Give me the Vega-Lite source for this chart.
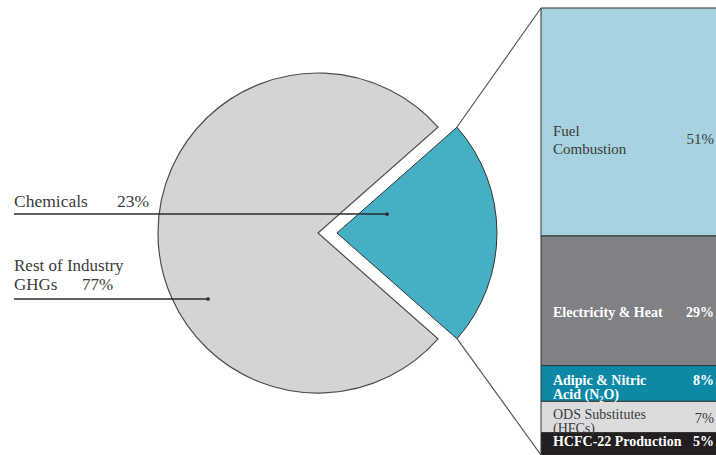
{
  "$schema": "https://vega.github.io/schema/vega-lite/v6.json",
  "width": 716,
  "height": 447,
  "autosize": {"type": "none"},
  "padding": {"left": 0, "top": 8, "right": 0, "bottom": 0},
  "background": "white",
  "config": {
    "view": {"stroke": null},
    "axis": {"disable": true},
    "legend": {"disable": true},
    "text": {"font": "Liberation Serif"}
  },
  "datasets": {
    "industry": [
      {"sector": "Chemicals", "label": "Chemicals", "share": 0.23},
      {"sector": "Rest of Industry GHGs", "label": "Rest of Industry\nGHGs", "share": 0.77}
    ],
    "chemicals": [
      {"source": "Fuel Combustion", "label": "Fuel\nCombustion", "share": 0.51},
      {"source": "Electricity & Heat", "label": "Electricity & Heat", "share": 0.29},
      {"source": "Adipic & Nitric Acid (N₂O)", "label": "Adipic & Nitric\nAcid (N₂O)", "share": 0.08},
      {"source": "ODS Substitutes (HFCs)", "label": "ODS Substitutes\n(HFCs)", "share": 0.07},
      {"source": "HCFC-22 Production", "label": "HCFC-22 Production", "share": 0.05}
    ]
  },
  "layer": [
    {
      "data": {"name": "industry"},
      "transform": [
        {"stack": "share", "groupby": [], "as": ["t0", "t1"]},
        {"filter": {"field": "sector", "equal": "Rest of Industry GHGs"}}
      ],
      "mark": {"type": "arc", "radius": 160, "stroke": "#4d4d4d", "strokeWidth": 1.2},
      "encoding": {
        "theta": {"field": "t0", "type": "quantitative", "stack": null, "scale": {"domain": [0, 1], "range": [0.8482, 7.1314]}},
        "theta2": {"field": "t1"},
        "x": {"datum": 0.4441, "type": "quantitative", "scale": {"domain": [0, 1], "nice": false, "zero": false}},
        "y": {"datum": 0.5034, "type": "quantitative", "scale": {"domain": [0, 1], "nice": false, "zero": false, "reverse": true}},
        "fill": {"field": "sector", "type": "nominal", "scale": {"domain": ["Rest of Industry GHGs", "Chemicals", "Fuel Combustion", "Electricity & Heat", "Adipic & Nitric Acid (N₂O)", "ODS Substitutes (HFCs)", "HCFC-22 Production"], "range": ["#d3d4d6", "#45afc4", "#a6d3df", "#808185", "#0d89a5", "#dcdcde", "#231f20"]}}
      }
    },
    {
      "data": {"name": "industry"},
      "transform": [
        {"stack": "share", "groupby": [], "as": ["t0", "t1"]},
        {"filter": {"field": "sector", "equal": "Chemicals"}}
      ],
      "mark": {"type": "arc", "radius": 160, "xOffset": 19, "stroke": "#333333", "strokeWidth": 1},
      "encoding": {
        "theta": {"field": "t0", "type": "quantitative", "stack": null, "scale": {"domain": [0, 1], "range": [0.8482, 7.1314]}},
        "theta2": {"field": "t1"},
        "x": {"datum": 0.4441, "type": "quantitative", "scale": {"domain": [0, 1], "nice": false, "zero": false}},
        "y": {"datum": 0.5034, "type": "quantitative", "scale": {"domain": [0, 1], "nice": false, "zero": false, "reverse": true}},
        "fill": {"field": "sector", "type": "nominal"}
      }
    },
    {
      "data": {"name": "industry"},
      "transform": [{"filter": {"field": "sector", "equal": "Chemicals"}}],
      "mark": {"type": "rule", "stroke": "#555555", "strokeWidth": 1.2},
      "encoding": {
        "x": {"datum": 0.6383, "type": "quantitative", "scale": {"domain": [0, 1], "nice": false, "zero": false}},
        "y": {"datum": 0.2662, "type": "quantitative", "scale": {"domain": [0, 1], "nice": false, "zero": false, "reverse": true}},
        "x2": {"datum": 0.7556},
        "y2": {"datum": 0}
      }
    },
    {
      "data": {"name": "industry"},
      "transform": [{"filter": {"field": "sector", "equal": "Chemicals"}}],
      "mark": {"type": "rule", "stroke": "#555555", "strokeWidth": 1.2},
      "encoding": {
        "x": {"datum": 0.6383, "type": "quantitative", "scale": {"domain": [0, 1], "nice": false, "zero": false}},
        "y": {"datum": 0.7396, "type": "quantitative", "scale": {"domain": [0, 1], "nice": false, "zero": false, "reverse": true}},
        "x2": {"datum": 0.7556},
        "y2": {"datum": 1}
      }
    },
    {
      "data": {"name": "chemicals"},
      "transform": [{"stack": "share", "groupby": [], "as": ["y0", "y1"]}],
      "mark": {"type": "rect", "stroke": "#333333", "strokeWidth": 1},
      "encoding": {
        "x": {"datum": 0.7556, "type": "quantitative", "scale": {"domain": [0, 1], "nice": false, "zero": false}},
        "x2": {"datum": 1.01},
        "y": {"field": "y0", "type": "quantitative", "scale": {"domain": [0, 1], "nice": false, "zero": false, "reverse": true}},
        "y2": {"field": "y1"},
        "fill": {"field": "source", "type": "nominal"}
      }
    },
    {
      "data": {"name": "chemicals"},
      "transform": [
        {"stack": "share", "groupby": [], "as": ["y0", "y1"]},
        {"filter": {"field": "source", "equal": "Fuel Combustion"}},
        {"fold": ["y0", "y1"], "as": ["edge", "pos"]}
      ],
      "mark": {"type": "text", "align": "left", "baseline": "middle", "dy": 9, "fontSize": 15, "lineHeight": 18, "lineBreak": "\n", "color": "#3a3a3a"},
      "encoding": {
        "x": {"datum": 0.7723, "type": "quantitative", "scale": {"domain": [0, 1], "nice": false, "zero": false}},
        "y": {"aggregate": "mean", "field": "pos", "type": "quantitative", "scale": {"domain": [0, 1], "nice": false, "zero": false, "reverse": true}},
        "text": {"field": "label", "type": "nominal"}
      }
    },
    {
      "data": {"name": "chemicals"},
      "transform": [
        {"stack": "share", "groupby": [], "as": ["y0", "y1"]},
        {"filter": {"field": "source", "equal": "Fuel Combustion"}},
        {"fold": ["y0", "y1"], "as": ["edge", "pos"]}
      ],
      "mark": {"type": "text", "align": "right", "baseline": "middle", "dy": 17, "fontSize": 15, "color": "#3a3a3a"},
      "encoding": {
        "x": {"datum": 0.9972, "type": "quantitative", "scale": {"domain": [0, 1], "nice": false, "zero": false}},
        "y": {"aggregate": "mean", "field": "pos", "type": "quantitative", "scale": {"domain": [0, 1], "nice": false, "zero": false, "reverse": true}},
        "text": {"field": "share", "type": "quantitative", "format": ".0%"}
      }
    },
    {
      "data": {"name": "chemicals"},
      "transform": [
        {"stack": "share", "groupby": [], "as": ["y0", "y1"]},
        {"filter": {"field": "source", "equal": "ODS Substitutes (HFCs)"}},
        {"fold": ["y0", "y1"], "as": ["edge", "pos"]}
      ],
      "mark": {"type": "text", "align": "left", "baseline": "middle", "dy": -2, "fontSize": 14, "lineHeight": 14, "lineBreak": "\n", "color": "#3a3a3a"},
      "encoding": {
        "x": {"datum": 0.7723, "type": "quantitative", "scale": {"domain": [0, 1], "nice": false, "zero": false}},
        "y": {"aggregate": "mean", "field": "pos", "type": "quantitative", "scale": {"domain": [0, 1], "nice": false, "zero": false, "reverse": true}},
        "text": {"field": "label", "type": "nominal"}
      }
    },
    {
      "data": {"name": "chemicals"},
      "transform": [
        {"stack": "share", "groupby": [], "as": ["y0", "y1"]},
        {"filter": {"field": "source", "equal": "ODS Substitutes (HFCs)"}},
        {"fold": ["y0", "y1"], "as": ["edge", "pos"]}
      ],
      "mark": {"type": "text", "align": "right", "baseline": "middle", "dy": 2, "fontSize": 14.5, "color": "#3a3a3a"},
      "encoding": {
        "x": {"datum": 0.9972, "type": "quantitative", "scale": {"domain": [0, 1], "nice": false, "zero": false}},
        "y": {"aggregate": "mean", "field": "pos", "type": "quantitative", "scale": {"domain": [0, 1], "nice": false, "zero": false, "reverse": true}},
        "text": {"field": "share", "type": "quantitative", "format": ".0%"}
      }
    },
    {
      "data": {"name": "chemicals"},
      "transform": [
        {"stack": "share", "groupby": [], "as": ["y0", "y1"]},
        {"filter": {"field": "source", "equal": "Electricity & Heat"}},
        {"fold": ["y0", "y1"], "as": ["edge", "pos"]}
      ],
      "mark": {"type": "text", "align": "left", "baseline": "middle", "dy": 12, "fontSize": 14, "fontWeight": "bold", "color": "white"},
      "encoding": {
        "x": {"datum": 0.7723, "type": "quantitative", "scale": {"domain": [0, 1], "nice": false, "zero": false}},
        "y": {"aggregate": "mean", "field": "pos", "type": "quantitative", "scale": {"domain": [0, 1], "nice": false, "zero": false, "reverse": true}},
        "text": {"field": "label", "type": "nominal"}
      }
    },
    {
      "data": {"name": "chemicals"},
      "transform": [
        {"stack": "share", "groupby": [], "as": ["y0", "y1"]},
        {"filter": {"field": "source", "equal": "Electricity & Heat"}},
        {"fold": ["y0", "y1"], "as": ["edge", "pos"]}
      ],
      "mark": {"type": "text", "align": "right", "baseline": "middle", "dy": 12, "fontSize": 14, "fontWeight": "bold", "color": "white"},
      "encoding": {
        "x": {"datum": 0.9972, "type": "quantitative", "scale": {"domain": [0, 1], "nice": false, "zero": false}},
        "y": {"aggregate": "mean", "field": "pos", "type": "quantitative", "scale": {"domain": [0, 1], "nice": false, "zero": false, "reverse": true}},
        "text": {"field": "share", "type": "quantitative", "format": ".0%"}
      }
    },
    {
      "data": {"name": "chemicals"},
      "transform": [
        {"stack": "share", "groupby": [], "as": ["y0", "y1"]},
        {"filter": {"field": "source", "oneOf": ["Adipic & Nitric Acid (N₂O)", "HCFC-22 Production"]}},
        {"fold": ["y0", "y1"], "as": ["edge", "pos"]}
      ],
      "mark": {"type": "text", "align": "left", "baseline": "middle", "dy": -2, "fontSize": 14, "fontWeight": "bold", "lineHeight": 14, "lineBreak": "\n", "color": "white"},
      "encoding": {
        "x": {"datum": 0.7723, "type": "quantitative", "scale": {"domain": [0, 1], "nice": false, "zero": false}},
        "y": {"aggregate": "mean", "field": "pos", "type": "quantitative", "scale": {"domain": [0, 1], "nice": false, "zero": false, "reverse": true}},
        "text": {"field": "label", "type": "nominal"}
      }
    },
    {
      "data": {"name": "chemicals"},
      "transform": [
        {"stack": "share", "groupby": [], "as": ["y0", "y1"]},
        {"filter": {"field": "source", "oneOf": ["Adipic & Nitric Acid (N₂O)", "HCFC-22 Production"]}},
        {"fold": ["y0", "y1"], "as": ["edge", "pos"]}
      ],
      "mark": {"type": "text", "align": "right", "baseline": "middle", "dy": -2, "fontSize": 14, "fontWeight": "bold", "color": "white"},
      "encoding": {
        "x": {"datum": 0.9972, "type": "quantitative", "scale": {"domain": [0, 1], "nice": false, "zero": false}},
        "y": {"aggregate": "mean", "field": "pos", "type": "quantitative", "scale": {"domain": [0, 1], "nice": false, "zero": false, "reverse": true}},
        "text": {"field": "share", "type": "quantitative", "format": ".0%"}
      }
    },
    {
      "data": {"name": "industry"},
      "transform": [{"filter": {"field": "sector", "equal": "Chemicals"}}],
      "mark": {"type": "rule", "stroke": "#2b2b2b", "strokeWidth": 1.3},
      "encoding": {
        "x": {"datum": 0.0196, "type": "quantitative", "scale": {"domain": [0, 1], "nice": false, "zero": false}},
        "x2": {"datum": 0.5405},
        "y": {"datum": 0.4609, "type": "quantitative", "scale": {"domain": [0, 1], "nice": false, "zero": false, "reverse": true}}
      }
    },
    {
      "data": {"name": "industry"},
      "transform": [{"filter": {"field": "sector", "equal": "Chemicals"}}],
      "mark": {"type": "point", "filled": true, "size": 14, "color": "#2b2b2b", "opacity": 1},
      "encoding": {
        "x": {"datum": 0.5405, "type": "quantitative", "scale": {"domain": [0, 1], "nice": false, "zero": false}},
        "y": {"datum": 0.4609, "type": "quantitative", "scale": {"domain": [0, 1], "nice": false, "zero": false, "reverse": true}}
      }
    },
    {
      "data": {"name": "industry"},
      "transform": [{"filter": {"field": "sector", "equal": "Rest of Industry GHGs"}}],
      "mark": {"type": "rule", "stroke": "#2b2b2b", "strokeWidth": 1.3},
      "encoding": {
        "x": {"datum": 0.0196, "type": "quantitative", "scale": {"domain": [0, 1], "nice": false, "zero": false}},
        "x2": {"datum": 0.2905},
        "y": {"datum": 0.651, "type": "quantitative", "scale": {"domain": [0, 1], "nice": false, "zero": false, "reverse": true}}
      }
    },
    {
      "data": {"name": "industry"},
      "transform": [{"filter": {"field": "sector", "equal": "Rest of Industry GHGs"}}],
      "mark": {"type": "point", "filled": true, "size": 14, "color": "#2b2b2b", "opacity": 1},
      "encoding": {
        "x": {"datum": 0.2905, "type": "quantitative", "scale": {"domain": [0, 1], "nice": false, "zero": false}},
        "y": {"datum": 0.651, "type": "quantitative", "scale": {"domain": [0, 1], "nice": false, "zero": false, "reverse": true}}
      }
    },
    {
      "data": {"name": "industry"},
      "transform": [{"filter": {"field": "sector", "equal": "Chemicals"}}],
      "mark": {"type": "text", "align": "left", "baseline": "alphabetic", "fontSize": 17.5, "color": "#3c3c3c"},
      "encoding": {
        "x": {"datum": 0.0196, "type": "quantitative", "scale": {"domain": [0, 1], "nice": false, "zero": false}},
        "y": {"datum": 0.4452, "type": "quantitative", "scale": {"domain": [0, 1], "nice": false, "zero": false, "reverse": true}},
        "text": {"field": "label", "type": "nominal"}
      }
    },
    {
      "data": {"name": "industry"},
      "transform": [{"filter": {"field": "sector", "equal": "Chemicals"}}],
      "mark": {"type": "text", "align": "left", "baseline": "alphabetic", "fontSize": 17.5, "color": "#3c3c3c"},
      "encoding": {
        "x": {"datum": 0.1634, "type": "quantitative", "scale": {"domain": [0, 1], "nice": false, "zero": false}},
        "y": {"datum": 0.4452, "type": "quantitative", "scale": {"domain": [0, 1], "nice": false, "zero": false, "reverse": true}},
        "text": {"field": "share", "type": "quantitative", "format": ".0%"}
      }
    },
    {
      "data": {"name": "industry"},
      "transform": [{"filter": {"field": "sector", "equal": "Rest of Industry GHGs"}}],
      "mark": {"type": "text", "align": "left", "baseline": "alphabetic", "fontSize": 17, "lineHeight": 19, "lineBreak": "\n", "color": "#3c3c3c"},
      "encoding": {
        "x": {"datum": 0.0196, "type": "quantitative", "scale": {"domain": [0, 1], "nice": false, "zero": false}},
        "y": {"datum": 0.5884, "type": "quantitative", "scale": {"domain": [0, 1], "nice": false, "zero": false, "reverse": true}},
        "text": {"field": "label", "type": "nominal"}
      }
    },
    {
      "data": {"name": "industry"},
      "transform": [{"filter": {"field": "sector", "equal": "Rest of Industry GHGs"}}],
      "mark": {"type": "text", "align": "left", "baseline": "alphabetic", "fontSize": 17, "color": "#3c3c3c"},
      "encoding": {
        "x": {"datum": 0.1145, "type": "quantitative", "scale": {"domain": [0, 1], "nice": false, "zero": false}},
        "y": {"datum": 0.6309, "type": "quantitative", "scale": {"domain": [0, 1], "nice": false, "zero": false, "reverse": true}},
        "text": {"field": "share", "type": "quantitative", "format": ".0%"}
      }
    }
  ]
}
